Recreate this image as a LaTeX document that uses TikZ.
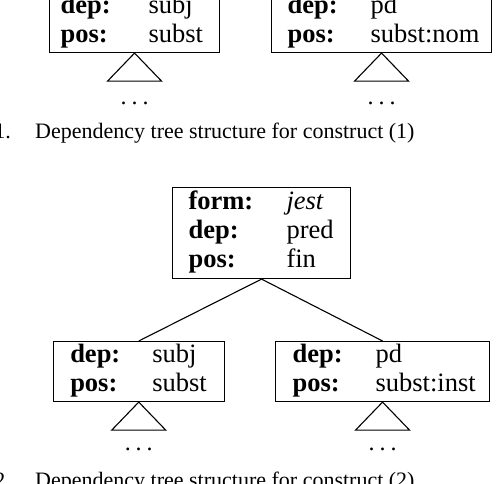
\documentclass[tikz,border=0pt]{standalone}
\usepackage{fontspec}
\setmainfont{Liberation Serif}
\usetikzlibrary{calc}
\newcommand{\boxfont}{\fontsize{26.5}{29}\selectfont}
\newcommand{\capfont}{\fontsize{22}{25}\selectfont}
\begin{document}
\begin{tikzpicture}[x=1pt,y=-1pt,
  fsbox/.style={draw, line width=1.1pt, inner xsep=0pt, inner ysep=1pt, anchor=north west, align=left, font=\boxfont},
  tri/.style={draw, line width=1.1pt},
  edge/.style={draw, line width=1.1pt},
  dotsnode/.style={font=\fontsize{24}{26}\selectfont, inner sep=0pt},
  captext/.style={font=\capfont, inner sep=0pt, anchor=base west},
  capnum/.style={font=\capfont, inner sep=0pt, anchor=base east}]
\useasboundingbox (0,0) rectangle (498,484);
\clip (0,0) rectangle (498,484);
% ---------- Figure 1 (partially visible) ----------
\node[fsbox, text width=170pt, minimum height=60pt] (fa) at (49,-8)
  {\begin{tabular}{@{\hspace{11pt}}p{88pt}@{}l@{}}\textbf{dep:} & subj\\ \textbf{pos:} & subst\end{tabular}};
\node[fsbox, text width=220pt, minimum height=60pt] (fb) at (271,-8)
  {\begin{tabular}{@{\hspace{16pt}}p{83pt}@{}l@{}}\textbf{dep:} & pd\\ \textbf{pos:} & subst:nom\end{tabular}};
\draw[tri] (fa.south) -- ++(-27,28) -- ++(54,0) -- cycle;
\draw[tri] (fb.south) -- ++(-27,28) -- ++(54,0) -- cycle;
\node[dotsnode] (fad) at ($(fa.south)+(0,50)$) {.\hspace{5pt}.\hspace{5pt}.};
\node[dotsnode] (fbd) at ($(fb.south)+(0,50)$) {.\hspace{5pt}.\hspace{5pt}.};
\node[capnum] (c1n) at (11,139) {1.};
\node[captext] (c1t) at (35,139) {Dependency tree structure for construct (1)};
% ---------- Figure 2 ----------
\node[fsbox, text width=178pt, minimum height=91pt] (top) at (172,187)
  {\begin{tabular}{@{\hspace{16pt}}p{98pt}@{}l@{}}\textbf{form:} & \textit{jest}\\ \textbf{dep:} & pred\\ \textbf{pos:} & fin\end{tabular}};
\node[fsbox, text width=171pt, minimum height=60pt] (ll) at (52.7,341)
  {\begin{tabular}{@{\hspace{17pt}}p{82pt}@{}l@{}}\textbf{dep:} & subj\\ \textbf{pos:} & subst\end{tabular}};
\node[fsbox, text width=214pt, minimum height=60pt] (lr) at (275,341)
  {\begin{tabular}{@{\hspace{17pt}}p{83pt}@{}l@{}}\textbf{dep:} & pd\\ \textbf{pos:} & subst:inst\end{tabular}};
\draw[edge] (top.south) -- (ll.north);
\draw[edge] (top.south) -- (lr.north);
\draw[tri] (ll.south) -- ++(-27,28) -- ++(54,0) -- cycle;
\draw[tri] (lr.south) -- ++(-27,28) -- ++(54,0) -- cycle;
\node[dotsnode] (lld) at ($(ll.south)+(0,47)$) {.\hspace{5pt}.\hspace{5pt}.};
\node[dotsnode] (lrd) at ($(lr.south)+(0,47)$) {.\hspace{5pt}.\hspace{5pt}.};
\node[capnum] (c2n) at (11,487) {2.};
\node[captext] (c2t) at (35,487) {Dependency tree structure for construct (2)};
\end{tikzpicture}
\end{document}
